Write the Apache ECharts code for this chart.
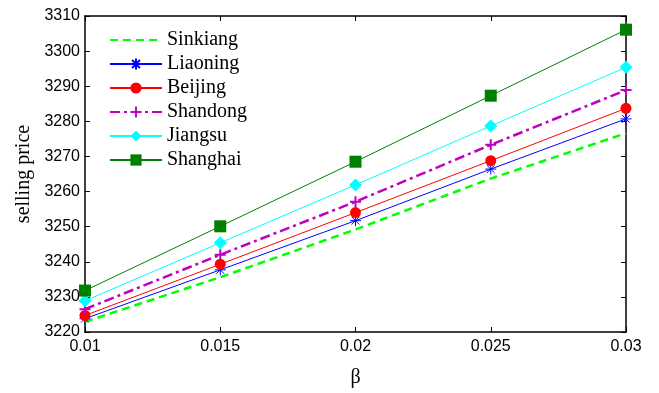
<!DOCTYPE html>
<html lang="en">
<head>
	<meta charset="utf-8">
	<title>selling price</title>
	<script src="https://cdn.jsdelivr.net/npm/echarts@6/dist/echarts.min.js"></script>
</head>
<style>
	html,body{width: 100%; height: 100%; padding: 0; margin: 0; overflow: hidden; background: #fff;}
	#main{width: 659px; height: 393px;}
</style>
<body>
	<div id="main"></div>
</body>
<script type="text/javascript">
	var beta = [0.01, 0.015, 0.02, 0.025, 0.03];
	var sinkiang = [3222.9, 3235.6, 3249.2, 3263.7, 3276.6];
	var liaoning = [3223.8, 3237.7, 3251.7, 3266.4, 3280.7];
	var beijing  = [3224.7, 3239.3, 3254.0, 3268.8, 3283.7];
	var shandong = [3226.5, 3242.0, 3257.1, 3273.3, 3288.9];
	var jiangsu  = [3228.9, 3245.4, 3261.9, 3278.7, 3295.4];
	var shanghai = [3231.8, 3250.1, 3268.5, 3287.3, 3306.1];

	function pts(arr){
		return beta.map(function(b, i){ return [b, arr[i]]; });
	}

	var star = 'path://M0,5L10,5M5,0L5,10M1.5,1.5L8.5,8.5M8.5,1.5L1.5,8.5';
	var plus = 'path://M0,5L10,5M5,0L5,10';

	var myChart = echarts.init(document.getElementById('main'));
	var axisCommon = {
		axisLine: {show: true, lineStyle: {color: '#000', width: 1.5}},
		axisTick: {show: true, inside: true, length: 5, lineStyle: {color: '#000'}},
		splitLine: {show: false}
	};
	var option = {
		animation: false,
		grid: {left: 85, right: 33, top: 16, bottom: 46},
		legend: {
			left: 104, top: 25, orient: 'vertical',
			itemWidth: 52, itemHeight: 14, itemGap: 4,
			textStyle: {fontFamily: 'Liberation Serif', fontSize: 20, color: '#000', lineHeight: 20},
			data: [
				{name: 'Sinkiang', itemStyle: {opacity: 0}},
				'Liaoning', 'Beijing', 'Shandong', 'Jiangsu', 'Shanghai'
			]
		},
		xAxis: [
			Object.assign({
				type: 'value', min: 0.01, max: 0.03, interval: 0.005,
				name: 'β', nameLocation: 'middle', nameGap: 36,
				nameTextStyle: {fontFamily: 'Liberation Serif', fontSize: 20, color: '#000'},
				axisLabel: {fontFamily: 'Liberation Sans', fontSize: 16, color: '#000', margin: 7}
			}, axisCommon),
			Object.assign({
				type: 'value', min: 0.01, max: 0.03, interval: 0.005, position: 'top',
				axisLabel: {show: false}
			}, axisCommon)
		],
		yAxis: [
			Object.assign({
				type: 'value', min: 3220, max: 3310, interval: 10,
				name: 'selling price', nameLocation: 'middle', nameGap: 48,
				nameTextStyle: {fontFamily: 'Liberation Serif', fontSize: 20, color: '#000'},
				axisLabel: {fontFamily: 'Liberation Sans', fontSize: 16, color: '#000', margin: 5,
					formatter: function(v){ return String(v); }}
			}, axisCommon),
			Object.assign({
				type: 'value', min: 3220, max: 3310, interval: 10, position: 'right',
				axisLabel: {show: false}
			}, axisCommon)
		],
		series: [
			{name: 'Sinkiang', type: 'line', data: pts(sinkiang), symbol: 'none',
				lineStyle: {color: '#00ff00', width: 2.5, type: [8, 5]}, itemStyle: {color: '#00ff00'}},
			{name: 'Liaoning', type: 'line', data: pts(liaoning), symbol: star, symbolSize: 11,
				lineStyle: {color: '#0000ff', width: 1},
				itemStyle: {color: '#0000ff', borderColor: '#0000ff', borderWidth: 1}},
			{name: 'Beijing', type: 'line', data: pts(beijing), symbol: 'circle', symbolSize: 11,
				lineStyle: {color: '#ff0000', width: 1}, itemStyle: {color: '#ff0000'}},
			{name: 'Shandong', type: 'line', data: pts(shandong), symbol: plus, symbolSize: 11,
				lineStyle: {color: '#bf00bf', width: 2.5, type: [10, 4, 3, 4]},
				itemStyle: {color: '#bf00bf', borderColor: '#bf00bf', borderWidth: 2}},
			{name: 'Jiangsu', type: 'line', data: pts(jiangsu), symbol: 'diamond', symbolSize: 13,
				lineStyle: {color: '#00ffff', width: 1}, itemStyle: {color: '#00ffff'}},
			{name: 'Shanghai', type: 'line', data: pts(shanghai), symbol: 'rect', symbolSize: 12,
				lineStyle: {color: '#008000', width: 1}, itemStyle: {color: '#008000'}}
		]
	};
	myChart.setOption(option);
</script>
</html>
